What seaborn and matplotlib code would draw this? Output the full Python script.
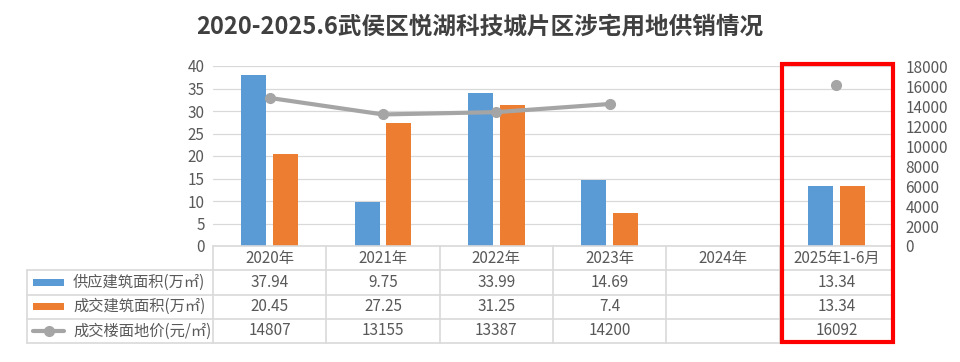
import numpy as np
import pandas as pd
import matplotlib
matplotlib.use("Agg")
import matplotlib.pyplot as plt
from matplotlib.patches import Rectangle
import seaborn as sns

# data
years = ['2020年', '2021年', '2022年', '2023年', '2024年', '2025年1-6月']
supply = [37.94, 9.75, 33.99, 14.69, np.nan, 13.34]
deal = [20.45, 27.25, 31.25, 7.4, np.nan, 13.34]
price = [14807, 13155, 13387, 14200, np.nan, 16092]
series_names = ['供应建筑面积(万㎡)', '成交建筑面积(万㎡)', '成交楼面地价(元/㎡)']

blue = '#5B9BD5'
orange = '#ED7D31'
gray = '#A5A5A5'
txt = '#595959'
grid = '#D9D9D9'

sns.set_style('white')
plt.rcParams['font.family'] = ['Noto Sans CJK SC', 'DejaVu Sans']

df = pd.DataFrame({
    'year': years * 2,
    'kind': [series_names[0]] * 6 + [series_names[1]] * 6,
    'value': supply + deal,
}).dropna()

fig = plt.figure(figsize=(9.6, 3.62), dpi=100)
W, H = 960, 362
ax = fig.add_axes([213 / W, (H - 246) / H, 680 / W, 180 / H])

sns.barplot(data=df, x='year', y='value', hue='kind', order=years,
            hue_order=series_names[:2], palette=[blue, orange], saturation=1,
            width=0.56, gap=0.22, errorbar=None, legend=False, ax=ax,
            edgecolor='none')
ax.set_xlim(-0.5, 5.5)
ax.set_ylim(0, 40)
ax.set_yticks(range(0, 41, 5))
ax.set_xlabel('')
ax.set_ylabel('')
ax.tick_params(axis='x', length=0, labelbottom=False)
ax.tick_params(axis='y', length=0, labelsize=11, labelcolor=txt, pad=6)
ax.yaxis.grid(True, color=grid, lw=0.9)
ax.set_axisbelow(True)
sns.despine(ax=ax, left=True, bottom=True)

ax2 = ax.twinx()
ax2.plot(range(len(years)), price, color=gray, lw=3, marker='o', ms=7,
         solid_capstyle='round')
ax2.set_ylim(0, 18000)
ax2.set_yticks(range(0, 18001, 2000))
ax2.tick_params(axis='y', length=0, labelsize=11, labelcolor=txt, pad=9)
for s in ax2.spines.values():
    s.set_visible(False)

# data table below the chart
tx0 = -0.5 - (213 - 27) / (680 / 6)
tax = fig.add_axes([27 / W, (H - 343) / H, 866 / W, 97 / H])
tax.set_xlim(tx0, 5.5)
tax.set_ylim(0, 4)
tax.axis('off')
lk = dict(color=grid, lw=1.2, clip_on=False)
tax.plot([-0.5, 5.5], [4, 4], **lk)
for y in [0, 1, 2, 3]:
    tax.plot([tx0, 5.5], [y, y], **lk)
tax.plot([tx0, tx0], [0, 3], **lk)
for x in np.arange(-0.5, 6, 1):
    tax.plot([x, x], [0, 4], **lk)

for i, yr in enumerate(years):
    tax.text(i, 3.5, yr, ha='center', va='center', fontsize=11, color=txt)
rows = [supply, deal, price]
for r, vals in enumerate(rows):
    yc = 2.5 - r
    for i, v in enumerate(vals):
        s = '' if np.isnan(v) else '{:g}'.format(v)
        tax.text(i, yc, s, ha='center', va='center', fontsize=11, color=txt)

px = 680 / 6
sx0 = tx0 + 6 / px
sx1 = tx0 + 37 / px
tx = tx0 + 46 / px
for r, c in enumerate([blue, orange]):
    yc = 2.5 - r
    tax.add_patch(Rectangle((sx0, yc - 0.15), sx1 - sx0, 0.3, color=c, lw=0))
tax.plot([sx0, sx1], [0.5, 0.5], color=gray, lw=3)
tax.plot([(sx0 + sx1) / 2], [0.5], 'o', color=gray, ms=7)
for r, name in enumerate(series_names):
    tax.text(tx, 2.5 - r, name, ha='left', va='center', fontsize=11, color=txt)

fig.text(0.5, (H - 27) / H, '2020-2025.6武侯区悦湖科技城片区涉宅用地供销情况',
         ha='center', va='center', fontsize=17, fontweight='bold', color='#404040')

fig.add_artist(Rectangle((782 / W, (H - 342) / H), (893 - 782) / W, (342 - 64) / H,
                         transform=fig.transFigure, fill=False, ec='#FF0000', lw=3))

fig.savefig('out.png', dpi=100)
